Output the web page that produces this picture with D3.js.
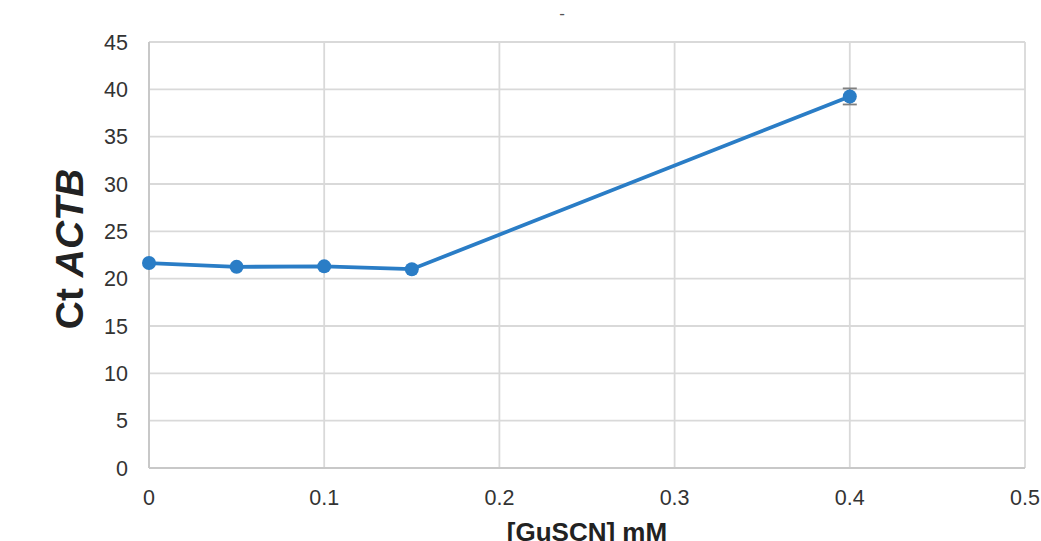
<!DOCTYPE html>
<html>
<head>
<meta charset="utf-8">
<script src="https://cdn.jsdelivr.net/npm/d3@7"></script>
<style>
  body { margin: 0; background: #fff; }
  text { font-family: "Liberation Sans", Arial, sans-serif; }
</style>
</head>
<body>
<div id="chart"></div>
<script>
// Values.
const conc = [0, 0.05, 0.1, 0.15, 0.4];
const ct = [21.65, 21.25, 21.3, 21.0, 39.25];
const ctErr = [0, 0, 0, 0, 0.85];
const xTicks = [0, 0.1, 0.2, 0.3, 0.4, 0.5];
const yTicks = [0, 5, 10, 15, 20, 25, 30, 35, 40, 45];

const width = 1041;
const height = 541;
const margin = { top: 42, right: 16, bottom: 73, left: 149 };

const svg = d3.select("#chart")
  .append("svg")
    .attr("width", width)
    .attr("height", height);

const x = d3.scaleLinear()
  .domain([0, 0.5])
  .range([margin.left, width - margin.right]);

const y = d3.scaleLinear()
  .domain([0, 45])
  .range([height - margin.bottom, margin.top]);

// Gridlines
svg.append("g")
  .selectAll("line")
  .data(yTicks)
  .join("line")
    .attr("x1", x(0))
    .attr("x2", x(0.5))
    .attr("y1", d => y(d))
    .attr("y2", d => y(d))
    .attr("stroke", "#d9d9d9")
    .attr("stroke-width", 1.8);

svg.append("g")
  .selectAll("line")
  .data(xTicks)
  .join("line")
    .attr("x1", d => x(d))
    .attr("x2", d => x(d))
    .attr("y1", y(0))
    .attr("y2", y(45))
    .attr("stroke", "#d9d9d9")
    .attr("stroke-width", 1.8);

// Axis lines
svg.append("line")
  .attr("x1", x(0)).attr("x2", x(0))
  .attr("y1", y(0)).attr("y2", y(45))
  .attr("stroke", "#c8c8c8").attr("stroke-width", 2);
svg.append("line")
  .attr("x1", x(0)).attr("x2", x(0.5))
  .attr("y1", y(0)).attr("y2", y(0))
  .attr("stroke", "#c8c8c8").attr("stroke-width", 2);

// Tick labels
svg.append("g")
  .selectAll("text")
  .data(yTicks)
  .join("text")
    .attr("x", x(0) - 21)
    .attr("y", d => y(d))
    .attr("dy", "0.36em")
    .attr("text-anchor", "end")
    .attr("font-size", 21.5)
    .attr("fill", "#333")
    .text(d => d);

svg.append("g")
  .selectAll("text")
  .data(xTicks)
  .join("text")
    .attr("x", d => x(d))
    .attr("y", y(0) + 37)
    .attr("text-anchor", "middle")
    .attr("font-size", 21.5)
    .attr("fill", "#333")
    .text(d => d);

// Axis titles
svg.append("text")
  .attr("x", 587)
  .attr("y", 541)
  .attr("text-anchor", "middle")
  .attr("font-size", 26)
  .attr("font-weight", "bold")
  .attr("fill", "#222")
  .text("[GuSCN] mM");

const yTitle = svg.append("text")
  .attr("transform", `translate(83,249) rotate(-90)`)
  .attr("text-anchor", "middle")
  .attr("font-size", 39)
  .attr("font-weight", "bold")
  .attr("fill", "#222");
yTitle.append("tspan").text("Ct ");
yTitle.append("tspan").attr("font-style", "italic").text("ACTB");

// Chart title (a lone dash)
svg.append("text")
  .attr("x", 562)
  .attr("y", 19)
  .attr("text-anchor", "middle")
  .attr("font-size", 17)
  .attr("fill", "#555")
  .text("-");

// Series
const points = conc.map((c, i) => ({ c, v: ct[i], e: ctErr[i] }));

svg.append("path")
  .datum(points)
  .attr("fill", "none")
  .attr("stroke", "#2a7dc6")
  .attr("stroke-width", 3.8)
  .attr("d", d3.line().x(d => x(d.c)).y(d => y(d.v)));

// Error bars
const err = svg.append("g")
  .selectAll("g")
  .data(points.filter(d => d.e > 0))
  .join("g")
    .attr("stroke", "#7f7f7f")
    .attr("stroke-width", 1.8);
err.append("line")
  .attr("x1", d => x(d.c)).attr("x2", d => x(d.c))
  .attr("y1", d => y(d.v - d.e)).attr("y2", d => y(d.v + d.e));
err.append("line")
  .attr("x1", d => x(d.c) - 7).attr("x2", d => x(d.c) + 7)
  .attr("y1", d => y(d.v + d.e)).attr("y2", d => y(d.v + d.e));
err.append("line")
  .attr("x1", d => x(d.c) - 7).attr("x2", d => x(d.c) + 7)
  .attr("y1", d => y(d.v - d.e)).attr("y2", d => y(d.v - d.e));

svg.append("g")
  .selectAll("circle")
  .data(points)
  .join("circle")
    .attr("cx", d => x(d.c))
    .attr("cy", d => y(d.v))
    .attr("r", 7)
    .attr("fill", "#2a7dc6");
</script>
</body>
</html>
